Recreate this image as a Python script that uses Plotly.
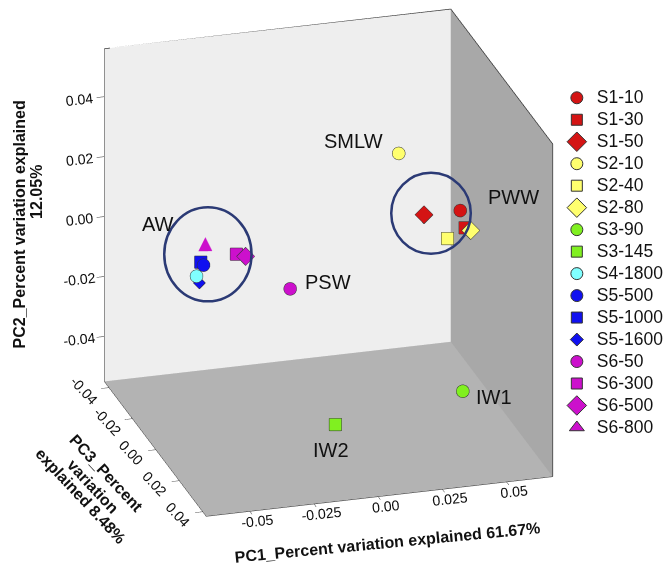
import plotly.graph_objects as go

# ---------------- data ----------------
samples = ["S1-10", "S1-30", "S1-50", "S2-10", "S2-40", "S2-80", "S3-90", "S3-145",
           "S4-1800", "S5-500", "S5-1000", "S5-1600", "S6-50", "S6-300", "S6-500", "S6-800"]
pc1 = [0.0561, 0.0557, 0.0374, 0.0367, 0.0443, 0.0510, 0.0434, -0.0108,
       -0.0512, -0.0439, -0.0427, -0.0478, -0.0147, -0.0311, -0.0298, -0.0478]
pc2 = [0.0076, 0.0045, 0.0132, 0.0234, 0.0072, 0.0118, -0.0359, -0.0365,
       0.0014, -0.0008, -0.0025, -0.0038, -0.0064, 0.0016, 0.0033, 0.0117]
pc3 = [-0.010, -0.005, 0.000, -0.020, 0.005, 0.010, 0.020, 0.030,
       0.000, -0.010, -0.015, -0.005, 0.000, -0.010, -0.005, 0.000]
colors = ["#d41414", "#d41414", "#d41414", "#ffff6e", "#ffff6e", "#ffff6e", "#80f020", "#80f020",
          "#80ffff", "#1010f0", "#1010f0", "#1010f0", "#cc10cc", "#cc10cc", "#cc10cc", "#cc10cc"]
symbols = ["circle", "square", "diamond", "circle", "square", "diamond", "circle", "square",
           "circle", "circle", "square", "diamond", "circle", "square", "diamond", "triangle-up"]

group_labels = ["SMLW", "PWW", "AW", "PSW", "IW1", "IW2"]
group_anchor = ["S2-10", "S2-80", "S6-800", "S6-50", "S3-90", "S3-145"]

pc1_ticks = [-0.05, -0.025, 0.0, 0.025, 0.05]
pc1_ticktext = ["-0.05", "-0.025", "0.00", "0.025", "0.05"]
pc2_ticks = [-0.04, -0.02, 0.0, 0.02, 0.04]
pc2_ticktext = ["-0.04", "-0.02", "0.00", "0.02", "0.04"]
pc3_ticks = [-0.04, -0.02, 0.0, 0.02, 0.04]
pc3_ticktext = ["-0.04", "-0.02", "0.00", "0.02", "0.04"]

pc1_range = [-0.067, 0.068]
pc2_range = [-0.055, 0.056]
pc3_range = [-0.044, 0.043]

# ---------------- style ----------------
FONT = "Liberation Sans, Arial, sans-serif"
size3d = {"circle": 7.5, "square": 6.5, "diamond": 6}
size_legend = {"circle": 12, "square": 11, "diamond": 15, "triangle-up": 13}

fig = go.Figure()

# box outline edges (top of back wall, right wall outer edges), from axis ranges
bx = [pc1_range[0], pc1_range[1], pc1_range[1], pc1_range[1]]
by = [pc3_range[0], pc3_range[0], pc3_range[1], pc3_range[1]]
bz = [pc2_range[1], pc2_range[1], pc2_range[1], pc2_range[0]]
fig.add_trace(go.Scatter3d(x=bx, y=by, z=bz, mode="lines",
                           line=dict(color="#3a3a3a", width=1.5),
                           showlegend=False, hoverinfo="skip"))

for i, s in enumerate(samples):
    sym = symbols[i]
    if sym == "triangle-up":
        fig.add_trace(go.Scatter3d(
            x=[pc1[i]], y=[pc3[i]], z=[pc2[i]], mode="text", text=["\u25B2"],
            textposition="middle center",
            textfont=dict(color=colors[i], size=24), showlegend=False, hoverinfo="skip"))
    else:
        sz = size3d[sym]
        if s == "S5-1600":
            sz = 4
        fig.add_trace(go.Scatter3d(
            x=[pc1[i]], y=[pc3[i]], z=[pc2[i]], mode="markers",
            marker=dict(symbol=sym, size=sz, color=colors[i],
                        line=dict(color="#333333", width=1)),
            showlegend=False, hoverinfo="skip"))
    # legend proxy (2D)
    lsz = size_legend[sym]
    if s == "S5-1600":
        lsz = 10
    fig.add_trace(go.Scatter(
        x=[None], y=[None], mode="markers",
        name="<span style='font-size:17.5px'>%s</span>" % s,
        marker=dict(symbol=sym, size=lsz, color=colors[i],
                    line=dict(color="#333333", width=1))))

# group labels as scene annotations
shifts = {"SMLW": (-45, 12), "PWW": (43, 33), "AW": (-47, 20),
          "PSW": (38, 7), "IW1": (31, -6), "IW2": (-4, -26)}
scene_ann = []
for lab, anc in zip(group_labels, group_anchor):
    j = samples.index(anc)
    dx, dy = shifts[lab]
    scene_ann.append(dict(x=pc1[j], y=pc3[j], z=pc2[j], text=lab, showarrow=False,
                          xshift=dx, yshift=dy,
                          font=dict(family=FONT, size=20, color="#111111")))

axis_common = dict(showgrid=False, zeroline=False, showline=True, linecolor="#333333",
                   linewidth=1, ticks="outside", tickcolor="#333333",
                   showspikes=False, showbackground=True,
                   tickfont=dict(family=FONT, size=13, color="#111111"),
                   title=dict(text=""))

k = 3.0
A = 1.281
fig.update_layout(
    width=669, height=564,
    margin=dict(l=0, r=0, t=0, b=0),
    paper_bgcolor="white", plot_bgcolor="rgba(0,0,0,0)",
    hovermode=False,
    xaxis=dict(visible=False), yaxis=dict(visible=False),
    font=dict(family=FONT),
    scene=dict(
        domain=dict(x=[0.0, 1.0], y=[0.0, 1.0]),
        aspectmode="manual", aspectratio=dict(x=A, y=A, z=A),
        camera=dict(eye=dict(x=-0.267 * k, y=-0.891 * k, z=0.3685 * k),
                    center=dict(x=-0.0148, y=0, z=-0.0724), up=dict(x=0, y=0, z=1),
                    projection=dict(type="orthographic")),
        xaxis=dict(range=pc1_range, tickvals=pc1_ticks, ticktext=pc1_ticktext,
                   backgroundcolor="#a8a8a8", tickangle=-6, ticklen=8, **axis_common),
        yaxis=dict(range=pc3_range[::-1], tickvals=pc3_ticks, ticktext=pc3_ticktext,
                   backgroundcolor="#eeeeee", tickangle=47, ticklen=8, **axis_common),
        zaxis=dict(range=pc2_range, tickvals=pc2_ticks, ticktext=pc2_ticktext,
                   backgroundcolor="#b3b3b3", ticklen=7, **axis_common),
        annotations=scene_ann,
    ),
    legend=dict(x=0.858, y=0.855, xanchor="left", yanchor="top",
                font=dict(family=FONT, size=14.6, color="#111111"),
                bgcolor="rgba(0,0,0,0)", itemwidth=30, tracegroupgap=0),
    showlegend=True,
)

W, H = 669.0, 564.0
def px(x):
    return x / W
def py(y):
    return 1 - y / H

# cluster ellipses (annotation decorations)
ellipses = [(214.3, 254.3, 45, 47), (444.3, 213.3, 41, 40.5)]
for cx, cy, rx, ry in ellipses:
    fig.add_shape(type="circle", xref="paper", yref="paper",
                  x0=px(cx - rx), x1=px(cx + rx), y0=py(cy + ry), y1=py(cy - ry),
                  line=dict(color="#2b3a75", width=2.5), layer="above")

# axis titles as paper annotations
titles = [
    ("PC2_Percent variation explained", 20, 224, -90),
    ("12.05%", 37, 192, -90),
    ("PC1_Percent variation explained 61.67%", 399, 542, -5.5),
    ("PC3_Percent", 110, 473, 47),
    ("variation", 96, 486, 47),
    ("explained 8.48%", 84, 496, 47),
]
for t, x, y, ang in titles:
    fig.add_annotation(text="<b>%s</b>" % t, x=px(x), y=py(y), xref="paper", yref="paper",
                       showarrow=False, textangle=ang, xanchor="center", yanchor="middle",
                       font=dict(family=FONT, size=16, color="#111111"))

fig.write_html("out.html")
